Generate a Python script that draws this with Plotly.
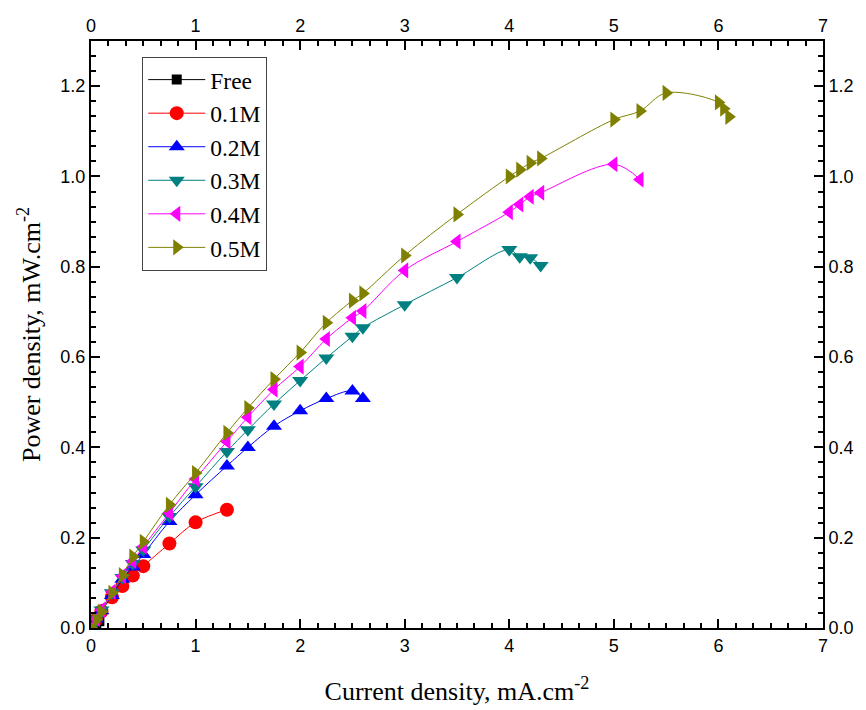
import plotly.graph_objects as go

# ---- data ----
series_names = ["Free", "0.1M", "0.2M", "0.3M", "0.4M", "0.5M"]

free_x = [0, 0.02, 0.05, 0.08]
free_y = [0, 0.004, 0.010, 0.015]

m01_x = [0, 0.05, 0.1, 0.2, 0.3, 0.4, 0.5, 0.75, 1.0, 1.3]
m01_y = [0, 0.019, 0.037, 0.068, 0.093, 0.116, 0.137, 0.187, 0.234, 0.262]

m02_x = [0, 0.05, 0.1, 0.2, 0.3, 0.4, 0.5, 0.75, 1.0, 1.3, 1.5, 1.75, 2.0, 2.25, 2.5, 2.6]
m02_y = [0, 0.020, 0.038, 0.072, 0.108, 0.135, 0.163, 0.236, 0.295, 0.359, 0.400, 0.447, 0.481, 0.508, 0.525, 0.508]

m03_x = [0, 0.05, 0.1, 0.2, 0.3, 0.4, 0.5, 0.75, 1.0, 1.3, 1.5, 1.75, 2.0, 2.25, 2.5, 2.6, 3.0, 3.5, 4.0, 4.1, 4.2, 4.3]
m03_y = [0, 0.020, 0.040, 0.078, 0.112, 0.143, 0.173, 0.247, 0.313, 0.391, 0.439, 0.496, 0.548, 0.598, 0.646, 0.665, 0.716, 0.776, 0.838, 0.822, 0.820, 0.803]

m04_x = [0, 0.05, 0.1, 0.2, 0.3, 0.4, 0.5, 0.75, 1.0, 1.3, 1.5, 1.75, 2.0, 2.25, 2.5, 2.6, 3.0, 3.5, 4.0, 4.1, 4.2, 4.3, 5.0, 5.25]
m04_y = [0, 0.020, 0.040, 0.080, 0.115, 0.148, 0.180, 0.255, 0.330, 0.413, 0.467, 0.528, 0.579, 0.640, 0.687, 0.702, 0.792, 0.856, 0.921, 0.938, 0.955, 0.964, 1.027, 0.993]

m05_x = [0, 0.05, 0.1, 0.2, 0.3, 0.4, 0.5, 0.75, 1.0, 1.3, 1.5, 1.75, 2.0, 2.25, 2.5, 2.6, 3.0, 3.5, 4.0, 4.1, 4.2, 4.3, 5.0, 5.25, 5.5, 6.0, 6.05, 6.1]
m05_y = [0, 0.018, 0.036, 0.078, 0.117, 0.158, 0.191, 0.273, 0.343, 0.432, 0.487, 0.551, 0.610, 0.676, 0.725, 0.741, 0.825, 0.916, 1.000, 1.015, 1.030, 1.040, 1.126, 1.145, 1.185, 1.164, 1.150, 1.132]

xs = [free_x, m01_x, m02_x, m03_x, m04_x, m05_x]
ys = [free_y, m01_y, m02_y, m03_y, m04_y, m05_y]

colors = ["#000000", "#FF0000", "#0000FF", "#008080", "#FF00FF", "#808000"]
symbols = ["square", "circle", "triangle-up", "triangle-down", "triangle-left", "triangle-right"]
sizes = [10, 14, 14, 14, 14, 14]

x_ticks = [0, 1, 2, 3, 4, 5, 6, 7]
y_ticks = [0.0, 0.2, 0.4, 0.6, 0.8, 1.0, 1.2]

fig = go.Figure()
for name, x, y, c, s, sz in zip(series_names, xs, ys, colors, symbols, sizes):
    fig.add_trace(go.Scatter(
        x=x, y=y, name=name, mode="lines+markers",
        line=dict(color=c, width=1, shape="spline", smoothing=1),
        marker=dict(symbol=s, size=sz, color=c, line=dict(width=0)),
    ))

# helper (invisible) trace to activate the top/right axes
fig.add_trace(go.Scatter(x=free_x, y=free_y, xaxis="x2", yaxis="y2", mode="markers",
                         marker=dict(opacity=0), showlegend=False, hoverinfo="skip"))

tick_font = dict(family="Liberation Sans, Arial", size=18, color="black")
title_font = dict(family="Liberation Serif, Times New Roman", size=26, color="black")

axis_common = dict(
    showgrid=False, zeroline=False, showline=True, linecolor="black", linewidth=2,
    ticks="inside", ticklen=9, tickwidth=1.5, tickcolor="black", tickfont=tick_font,
    automargin=False,
)
minor_x = dict(ticks="inside", dtick=1/6, ticklen=5, tickcolor="black", tickwidth=1.5)
minor_y = dict(ticks="inside", dtick=0.2/6, ticklen=5, tickcolor="black", tickwidth=1.5)

fig.update_layout(
    width=866, height=710,
    # page body adds an 8px offset; margins compensate so the plot area lands at 91..823 x 41..628
    margin=dict(l=83, r=51, t=33, b=90),
    paper_bgcolor="white", plot_bgcolor="white",
    xaxis=dict(range=[0, 7], tickvals=x_ticks, ticktext=[str(v) for v in x_ticks],
               minor=minor_x,
               title=dict(text="Current density, mA.cm<sup>-2</sup>", font=title_font, standoff=27),
               **axis_common),
    yaxis=dict(range=[0, 1.3], tickvals=y_ticks, ticktext=[f"{v:.1f}" for v in y_ticks],
               minor=minor_y,
               title=dict(text="Power density, mW.cm<sup>-2</sup>", font=title_font, standoff=12),
               **axis_common),
    xaxis2=dict(range=[0, 7], tickvals=x_ticks, ticktext=[str(v) for v in x_ticks],
                overlaying="x", side="top", anchor="y2", minor=minor_x, **axis_common),
    yaxis2=dict(range=[0, 1.3], tickvals=y_ticks, ticktext=[f"{v:.1f}" for v in y_ticks],
                overlaying="y", side="right", anchor="x2", minor=minor_y, **axis_common),
    legend=dict(x=0.07, y=0.973, xanchor="left", yanchor="top",
                bgcolor="white", bordercolor="#444444", borderwidth=1,
                font=dict(family="Liberation Serif, Times New Roman", size=23.5, color="black"),
                tracegroupgap=0, itemwidth=57),
    showlegend=True,
)

fig.write_html("out.html")
